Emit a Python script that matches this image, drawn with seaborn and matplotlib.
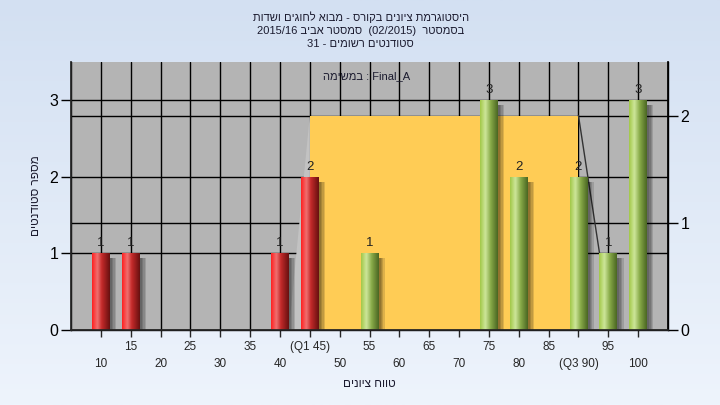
import re
import numpy as np
import matplotlib
matplotlib.use('Agg')
import matplotlib.pyplot as plt
import matplotlib.patheffects as pe
from matplotlib.colors import LinearSegmentedColormap
import seaborn as sns

# data
scores = [10, 15, 40, 45, 55, 75, 80, 90, 95, 100]
counts = [1, 1, 1, 2, 1, 3, 2, 2, 1, 3]
groups = ['low', 'low', 'low', 'low', 'high', 'high', 'high', 'high', 'high', 'high']

q1 = 45
q3 = 90
band_height = 2  # on the right-hand axis

upper_ticks = [15, 25, 35, 45, 55, 65, 75, 85, 95]
upper_labels = ['15', '25', '35', '(Q1 45)', '55', '65', '75', '85', '95']
lower_ticks = [10, 20, 30, 40, 50, 60, 70, 80, 90, 100]
lower_labels = ['10', '20', '30', '40', '50', '60', '70', '80', '(Q3 90)', '100']

title_lines = [
    'היסטוגרמת ציונים בקורס - מבוא לחוגים ושדות',
    'בסמסטר  (02/2015)  סמסטר אביב 2015/16',
    'סטודנטים רשומים - 31',
]
task_label = 'במשימה : Final_A'
x_label = 'טווח ציונים'
y_label = 'מספר סטודנטים'

left_max = 3.5
right_max = 2.5


def visual(text, rtl=True):
    # matplotlib has no bidi support: put Hebrew into display order
    if rtl:
        rev = text[::-1]
        rev = re.sub(r'[0-9A-Za-z_/.]+', lambda m: m.group(0)[::-1], rev)
        return rev.translate(str.maketrans('()', ')('))
    return re.sub(r'[\u0590-\u05FF]+(?: [\u0590-\u05FF]+)*',
                  lambda m: m.group(0)[::-1], text)


sns.set_theme(style='ticks')
plt.rcParams['font.family'] = ['Liberation Sans', 'DejaVu Sans']

fig = plt.figure(figsize=(7.2, 4.05), dpi=100)

# page background gradient
bg = fig.add_axes([0, 0, 1, 1], zorder=-10)
bg_cmap = LinearSegmentedColormap.from_list('bg', ['#d3e0f2', '#eef4fc'])
bg.imshow(np.linspace(0, 1, 256).reshape(-1, 1), aspect='auto', cmap=bg_cmap,
          extent=[0, 1, 0, 1], origin='upper')
bg.axis('off')

ax = fig.add_axes([0.0986, 0.185, 0.8292, 0.662])
ax.set_facecolor('#b4b4b4')

palette = {'low': '#e23030', 'high': '#9cc04c'}
sns.barplot(x=scores, y=counts, hue=groups, palette=palette, native_scale=True,
            dodge=False, width=0.6, legend=False, ax=ax, zorder=3,
            edgecolor='none', linewidth=0)

ax.set_xlim(5, 105)
ax.set_ylim(0, left_max)

# grid
ax.set_axisbelow(True)
ax.set_xticks(upper_ticks, labels=upper_labels)
ax.set_xticks(lower_ticks, labels=lower_labels, minor=True)
ax.set_yticks([0, 1, 2, 3])
ax.grid(True, which='both', axis='x', color='black', lw=1)
ax.grid(True, which='major', axis='y', color='black', lw=1)
scale = left_max / right_max
for v in [1, 2]:
    ax.axhline(v * scale, color='black', lw=1, zorder=0.6)

# interquartile band (3D area look)
band_top = band_height * scale
ax.fill_between([q1, q3], 0, band_top, color='#ffcc55', lw=0, zorder=1)
ax.fill([q1, q1 - 3.5, q1], [band_top, 0, 0], color='#c2c2c2', lw=0, zorder=1)
ax.plot([q3, q3 + 5.5], [band_top, 0], color='#333333', lw=1, zorder=1.5)

# cylinder shading for bars
grad_maps = {
    'low': LinearSegmentedColormap.from_list('r', [(0, '#ff2020'), (0.3, '#f07070'),
                                                   (0.55, '#c42a2a'), (1, '#681010')]),
    'high': LinearSegmentedColormap.from_list('g', [(0, '#a2c848'), (0.3, '#cde69a'),
                                                    (0.6, '#88aa48'), (1, '#4a6622')]),
}
row = np.linspace(0, 1, 100).reshape(1, -1)
shadow = [pe.SimplePatchShadow(offset=(d, -3.5), shadow_rgbFace='black', alpha=0.13)
          for d in (1.5, 2.5, 3.5, 4.5)] + [pe.Normal()]
for c, g in zip(ax.containers, ['low', 'high']):
    for p in c:
        h = p.get_height()
        if not np.isfinite(h) or h == 0:
            continue
        p.set_path_effects(shadow)
        x0, w = p.get_x(), p.get_width()
        im = ax.imshow(row, extent=[x0, x0 + w, 0, h], aspect='auto',
                       cmap=grad_maps[g], zorder=3.1, interpolation='bilinear')
        im.set_clip_path(p)
    ax.bar_label(c, padding=3, fontsize=9.5, color='#222222')

ax.set_xlim(5, 105)
ax.set_ylim(0, left_max)

for s in ['left', 'bottom', 'right']:
    ax.spines[s].set_color('black')
    ax.spines[s].set_linewidth(1)
ax.spines['top'].set_visible(False)

ax.tick_params(axis='y', length=7, width=1, labelsize=11.5, pad=2, colors='black')
ax.tick_params(axis='x', which='major', length=5, width=1, labelsize=8.5, pad=3)
ax.tick_params(axis='x', which='minor', length=5, width=1, labelsize=8.5, pad=15)

ax.set_xlabel(visual(x_label), fontsize=8.5, labelpad=6, color='#1b1b2f')
ax.set_ylabel(visual(y_label), fontsize=8.5, rotation=90, va='center', color='#1b1b2f')
ax.yaxis.set_label_coords(-0.058, 0.5)

ax.text(0.495, 0.948, visual(task_label, rtl=False), transform=ax.transAxes,
        ha='center', va='center', fontsize=8, color='#1b1b2f', zorder=10)

ax2 = ax.twinx()
ax2.set_ylim(0, right_max)
ax2.set_yticks([0, 1, 2])
ax2.spines['top'].set_visible(False)
ax2.spines['right'].set_color('black')
ax2.tick_params(axis='y', length=7, width=1, labelsize=11.5, pad=2, colors='black')
ax2.grid(False)

for i, line in enumerate(title_lines):
    fig.text(0.501, 1 - (17 + 13.5 * i) / 405, visual(line), ha='center', va='center',
             fontsize=8, color='#1b1b2f')

fig.savefig('out.png', dpi=100)
